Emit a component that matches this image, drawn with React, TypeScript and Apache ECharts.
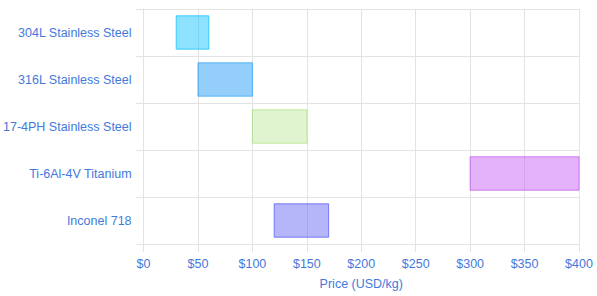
import React, { useEffect, useRef } from "react";
import * as echarts from "echarts";

const categories = [
  "304L Stainless Steel",
  "316L Stainless Steel",
  "17-4PH Stainless Steel",
  "Ti-6Al-4V Titanium",
  "Inconel 718",
];
const lowPrices = [30, 50, 100, 300, 120];
const highPrices = [60, 100, 150, 400, 170];
const fillColors = [
  "rgba(0,191,255,0.45)",
  "rgba(40,160,245,0.5)",
  "rgba(160,220,110,0.32)",
  "rgba(195,85,240,0.45)",
  "rgba(90,90,245,0.45)",
];
const borderColors = [
  "rgba(0,191,255,0.7)",
  "rgba(40,160,245,0.7)",
  "rgba(160,220,110,0.6)",
  "rgba(195,85,240,0.7)",
  "rgba(90,90,245,0.75)",
];

const labelColor = "#4479dc";
const gridColor = "#e3e3e3";
const font = "'Liberation Sans', Arial, sans-serif";

export default function App() {
  const ref = useRef<HTMLDivElement>(null);
  useEffect(() => {
    if (!ref.current) return;
    document.body.style.margin = "0";
    document.body.style.overflow = "hidden";
    const chart = echarts.init(ref.current, null, { renderer: "svg" });
    const data = categories.map((c, i) => [lowPrices[i], highPrices[i], i]);
    chart.setOption({
      animation: false,
      textStyle: { fontFamily: font },
      grid: { left: 143, right: 18, top: 9, bottom: 52, containLabel: false },
      xAxis: {
        type: "value",
        min: 0,
        max: 400,
        interval: 50,
        name: "Price (USD/kg)",
        nameLocation: "middle",
        nameGap: 33,
        nameTextStyle: { color: labelColor, fontSize: 12.5, fontFamily: font },
        axisLine: { show: true, lineStyle: { color: gridColor, width: 1 } },
        axisTick: { show: true, length: 8, lineStyle: { color: gridColor } },
        axisLabel: {
          color: labelColor,
          fontSize: 12.5,
          margin: 13,
          fontFamily: font,
          formatter: (v: number) => "$" + v,
        },
        splitLine: { show: true, lineStyle: { color: gridColor, width: 1 } },
      },
      yAxis: {
        type: "category",
        data: categories,
        inverse: true,
        boundaryGap: true,
        axisLine: { show: true, lineStyle: { color: gridColor, width: 1 } },
        axisTick: { show: true, length: 8, lineStyle: { color: gridColor } },
        axisLabel: { color: labelColor, fontSize: 12.5, margin: 12, fontFamily: font },
        splitLine: { show: true, lineStyle: { color: gridColor, width: 1 } },
      },
      series: [
        {
          type: "custom",
          encode: { x: [0, 1], y: 2 },
          data,
          renderItem: (params: any, api: any) => {
            const lo = api.value(0);
            const hi = api.value(1);
            const idx = api.value(2);
            const p0 = api.coord([lo, idx]);
            const p1 = api.coord([hi, idx]);
            const h = api.size([0, 1])[1] * 0.71;
            return {
              type: "rect",
              shape: { x: p0[0], y: p0[1] - h / 2, width: p1[0] - p0[0], height: h },
              style: {
                fill: fillColors[idx],
                stroke: borderColors[idx],
                lineWidth: 1,
              },
            };
          },
        },
      ],
    });
    return () => chart.dispose();
  }, []);
  return (
    <div
      ref={ref}
      style={{ position: "absolute", left: 0, top: 0, width: 597, height: 296 }}
    />
  );
}
